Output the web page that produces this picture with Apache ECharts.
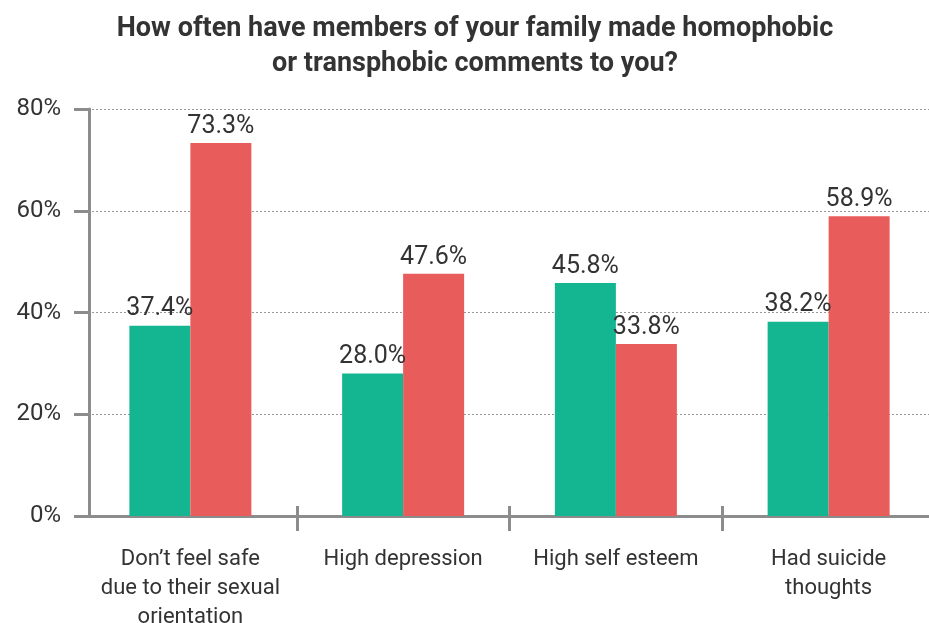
<!DOCTYPE html>
<html>
<head>
<meta charset="utf-8">
<script src="https://cdn.jsdelivr.net/npm/echarts@6/dist/echarts.min.js"></script>
<style>
  html, body { margin: 0; padding: 0; background: #fff; }
  #chart { width: 929px; height: 623px; }
</style>
</head>
<body>
<div id="chart"></div>
<script>
// chart data
var categories = [
  'Don\u2019t feel safe\ndue to their sexual\norientation',
  'High depression',
  'High self esteem',
  'Had suicide\nthoughts'
]
var greenValues = [37.4, 28.0, 45.8, 38.2]
var redValues = [73.3, 47.6, 33.8, 58.9]
var yTicks = [0, 20, 40, 60, 80]

var textColor = '#333333'
var axisColor = '#8c8c8c'
var font = 'Roboto'

var chart = echarts.init(document.getElementById('chart'))

function barSeries(name, color, data) {
  return {
    name: name,
    type: 'bar',
    barWidth: 61,
    barGap: '0%',
    itemStyle: { color: color },
    label: {
      show: true,
      position: 'top',
      distance: 4,
      color: textColor,
      fontFamily: font,
      fontSize: 25,
      formatter: function (p) { return p.value.toFixed(1) + '%' }
    },
    data: data
  }
}

// first boundary tick sits under the y axis, skip it
function skipFirst(index) {
  return index !== 0
}

chart.setOption({
  animation: false,
  title: {
    text: 'How often have members of your family made homophobic\nor transphobic comments to you?',
    left: 470,
    top: 7,
    textAlign: 'center',
    textStyle: {
      color: textColor,
      fontFamily: font,
      fontSize: 27,
      fontWeight: 'bold',
      lineHeight: 35
    }
  },
  // categories are a little wider than the visible plot, so the grid
  // runs slightly past both edges and the y axis is pulled back in
  grid: {
    left: 84,
    right: -6,
    top: 109,
    bottom: 107,
    outerBoundsMode: 'none'
  },
  xAxis: [{
    type: 'category',
    data: categories,
    axisLine: { lineStyle: { color: axisColor, width: 3 } },
    axisTick: { show: true, length: 15, interval: skipFirst, lineStyle: { color: axisColor, width: 3 } },
    axisLabel: {
      color: textColor,
      fontFamily: font,
      fontSize: 22,
      lineHeight: 29,
      margin: 29,
      interval: 0
    }
  }, {
    // inner half of the crossing ticks
    type: 'category',
    position: 'bottom',
    data: categories,
    axisLine: { show: false },
    axisTick: { show: true, inside: true, length: 10, interval: skipFirst, lineStyle: { color: axisColor, width: 3 } },
    axisLabel: { show: false }
  }],
  yAxis: {
    type: 'value',
    min: yTicks[0],
    max: yTicks[yTicks.length - 1],
    interval: 20,
    offset: -5,
    axisLine: { show: true, lineStyle: { color: axisColor, width: 3 } },
    axisTick: { show: true, length: 15, lineStyle: { color: axisColor, width: 3 } },
    axisLabel: {
      color: textColor,
      fontFamily: font,
      fontSize: 24,
      margin: 28,
      formatter: '{value}%'
    },
    splitLine: {
      show: true,
      lineStyle: { color: '#999999', width: 1, type: [2, 2] }
    }
  },
  series: [
    barSeries('Green', '#14b591', greenValues),
    barSeries('Red', '#e85d5b', redValues)
  ]
})
</script>
</body>
</html>
